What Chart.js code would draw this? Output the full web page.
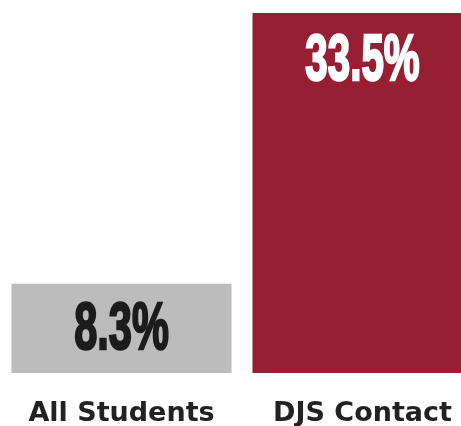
<!DOCTYPE html>
<html>
<head>
<meta charset="utf-8">
<script src="https://cdn.jsdelivr.net/npm/chart.js@4"></script>
<style>
  html, body { margin: 0; padding: 0; background: #fff; overflow: hidden; }
  #box { width: 483px; height: 457px; position: relative; }
</style>
</head>
<body>
<div id="box"><canvas id="myChart"></canvas></div>
<script>
  // dati del grafico
  var categorie = ["All Students", "DJS Contact"];
  var valori = [8.3, 33.5];
  var etichette = ["8.3%", "33.5%"];

  var coloriBarre = ["#bcbcbc", "#971f33"];
  var coloriTesto = ["#1c1c1c", "#ffffff"];
  var dimensioniTesto = [67, 65];

  // plugin per scrivere la percentuale dentro la barra (font stretto)
  var etichetteBarre = {
    id: "etichetteBarre",
    afterDatasetsDraw: function(chart) {
      var ctx = chart.ctx;
      var meta = chart.getDatasetMeta(0);
      for (var i = 0; i < meta.data.length; i++) {
        var barra = meta.data[i];
        var altezza = barra.base - barra.y;
        var y = altezza > 150 ? barra.y + 47 : (barra.y + barra.base) / 2;
        ctx.save();
        ctx.translate(barra.x, y);
        ctx.scale(0.62, 1);
        ctx.font = "bold " + dimensioniTesto[i] + "px 'Liberation Sans', Arial, sans-serif";
        ctx.fillStyle = coloriTesto[i];
        ctx.strokeStyle = coloriTesto[i];
        ctx.lineWidth = 2.5;
        ctx.textAlign = "center";
        ctx.textBaseline = "middle";
        ctx.fillText(etichette[i], 0, 2);
        ctx.strokeText(etichette[i], 0, 2);
        ctx.restore();
      }
    }
  };

  function creaGrafico() {
    new Chart(document.getElementById("myChart"), {
      type: "bar",
      data: {
        labels: categorie,
        datasets: [{
          data: valori,
          backgroundColor: coloriBarre,
          borderWidth: 0,
          categoryPercentage: 0.913,
          barPercentage: 1
        }]
      },
      options: {
        responsive: true,
        maintainAspectRatio: false,
        animation: false,
        layout: { padding: { top: 13, bottom: 3, left: 1, right: 0 } },
        plugins: {
          legend: { display: false },
          tooltip: { enabled: false }
        },
        scales: {
          x: {
            grid: { display: false, drawTicks: false },
            border: { display: false },
            ticks: {
              color: "#222222",
              padding: 27,
              font: { family: "'DejaVu Sans'", size: 27, weight: "bold", lineHeight: 1 }
            }
          },
          y: {
            display: false,
            min: 0,
            max: 33.5
          }
        }
      },
      plugins: [etichetteBarre]
    });
  }

  // aspetto i font prima di disegnare sul canvas
  Promise.all([
    document.fonts.load("bold 67px 'Liberation Sans'"),
    document.fonts.load("bold 27px 'DejaVu Sans'")
  ]).then(creaGrafico, creaGrafico);
</script>
</body>
</html>
